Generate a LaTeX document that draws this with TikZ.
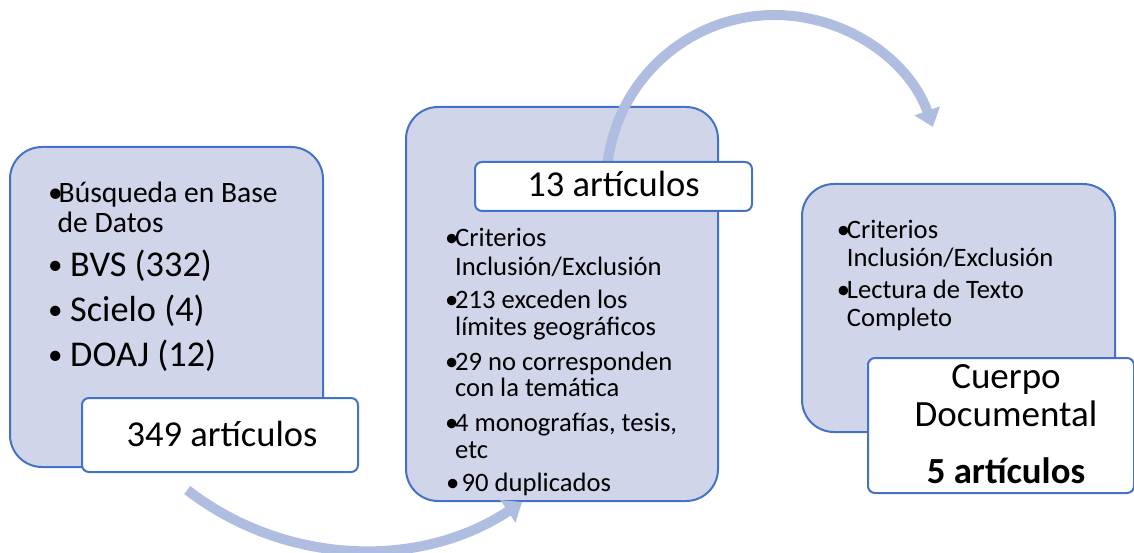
\documentclass[tikz,border=0pt]{standalone}
\usepackage{fontspec}
\setmainfont{Carlito}
\usetikzlibrary{arrows.meta}
\definecolor{boxfill}{HTML}{D0D5E9}
\definecolor{boxline}{HTML}{4472C4}
\definecolor{arrowc}{HTML}{AFBDE0}
\newcommand\bul[1]{\makebox[#1][l]{•}}
\newcommand\bigbul{\makebox[22pt][l]{\fontsize{29pt}{30pt}\selectfont\raisebox{2pt}{•}}}
\begin{document}
\begin{tikzpicture}[x=1pt,y=-1pt,
  bigbox/.style={draw=boxline, line width=2pt, fill=boxfill, rounded corners=32pt, inner sep=0pt},
  whitebox/.style={draw=boxline, line width=2pt, fill=white, rounded corners=7pt, inner sep=0pt},
  flow/.style={draw=arrowc, line width=10pt, -{Triangle[width=26pt,length=17pt]}},
  smalltxt/.style={font=\fontsize{26.6pt}{28pt}\selectfont, anchor=base west, inner sep=0pt},
  midtxt/.style={font=\fontsize{29.6pt}{31pt}\selectfont, anchor=base west, inner sep=0pt},
  bigtxt/.style={font=\fontsize{36.3pt}{40pt}\selectfont, anchor=base west, inner sep=0pt},
  bigc/.style={font=\fontsize{36.5pt}{40pt}\selectfont, anchor=base, inner sep=0pt},
  bigcb/.style={font=\fontsize{36.8pt}{40pt}\selectfont\bfseries, anchor=base, inner sep=0pt}]
\useasboundingbox (0,0) rectangle (1134,553);

% main boxes
\node[bigbox, minimum width=313pt, minimum height=320pt] (b1) at (166.5,307) {};
\node[bigbox, minimum width=312pt, minimum height=394pt] (b2) at (562,304) {};
\node[bigbox, minimum width=313pt, minimum height=248pt] (b3) at (958.5,308) {};

% curved arrows
\coordinate (a1s) at (187.2,490);
\coordinate (a2s) at (606.5,183);
\draw[flow] (a1s) arc[start angle=232.3, end angle=303.6, radius=287.5pt];
\draw[flow] (a2s) arc[start angle=180, end angle=19.5, radius=168pt];

% white count boxes
\node[whitebox, minimum width=276pt, minimum height=74pt] (w1) at (220,435) {};
\node[whitebox, minimum width=277pt, minimum height=49pt] (w2) at (613.5,186.5) {};
\node[whitebox, minimum width=266pt, minimum height=135pt] (w3) at (1001,425.5) {};

% box 1 text
\node[midtxt] (t1a) at (48,202.7) {\bul{10.5pt}Búsqueda en Base};
\node[midtxt] (t1b) at (57.5,233) {de Datos};
\node[bigtxt] (t1c) at (48,276.7) {\bigbul BVS (332)};
\node[bigtxt] (t1d) at (48,321.7) {\bigbul Scielo (4)};
\node[bigtxt] (t1e) at (48,366.7) {\bigbul DOAJ (12)};
\node[bigc] (c1) at (222,446.7) {349 artículos};

% box 2 text
\node[bigc] (c2) at (613.5,196.7) {13 artículos};
\node[smalltxt] (t2a) at (445,246.7) {\bul{10pt}Criterios};
\node[smalltxt] (t2b) at (455,275) {Inclusión/Exclusión};
\node[smalltxt] (t2c) at (445,308.3) {\bul{10pt}213 exceden los};
\node[smalltxt] (t2d) at (455,335.5) {límites geográficos};
\node[smalltxt] (t2e) at (445,370) {\bul{10pt}29 no corresponden};
\node[smalltxt] (t2f) at (455,396.7) {con la temática};
\node[smalltxt] (t2g) at (445,431.7) {\bul{10pt}4 monografías, tesis,};
\node[smalltxt] (t2h) at (455,458.3) {etc};
\node[smalltxt] (t2i) at (446,491.7) {\bul{15.5pt}90 duplicados};

% box 3 text
\node[smalltxt] (t3a) at (836.7,238.3) {\bul{10pt}Criterios};
\node[smalltxt] (t3b) at (846.7,266.7) {Inclusión/Exclusión};
\node[smalltxt] (t3c) at (836.7,298.3) {\bul{10pt}Lectura de Texto};
\node[smalltxt] (t3d) at (846.7,326.7) {Completo};
\node[bigc, font=\fontsize{37pt}{40pt}\selectfont] (c3a) at (1006,388) {Cuerpo};
\node[bigc, font=\fontsize{37pt}{40pt}\selectfont] (c3b) at (1006,426.7) {Documental};
\node[bigcb] (c3c) at (1006,483) {5 artículos};
\end{tikzpicture}
\end{document}
